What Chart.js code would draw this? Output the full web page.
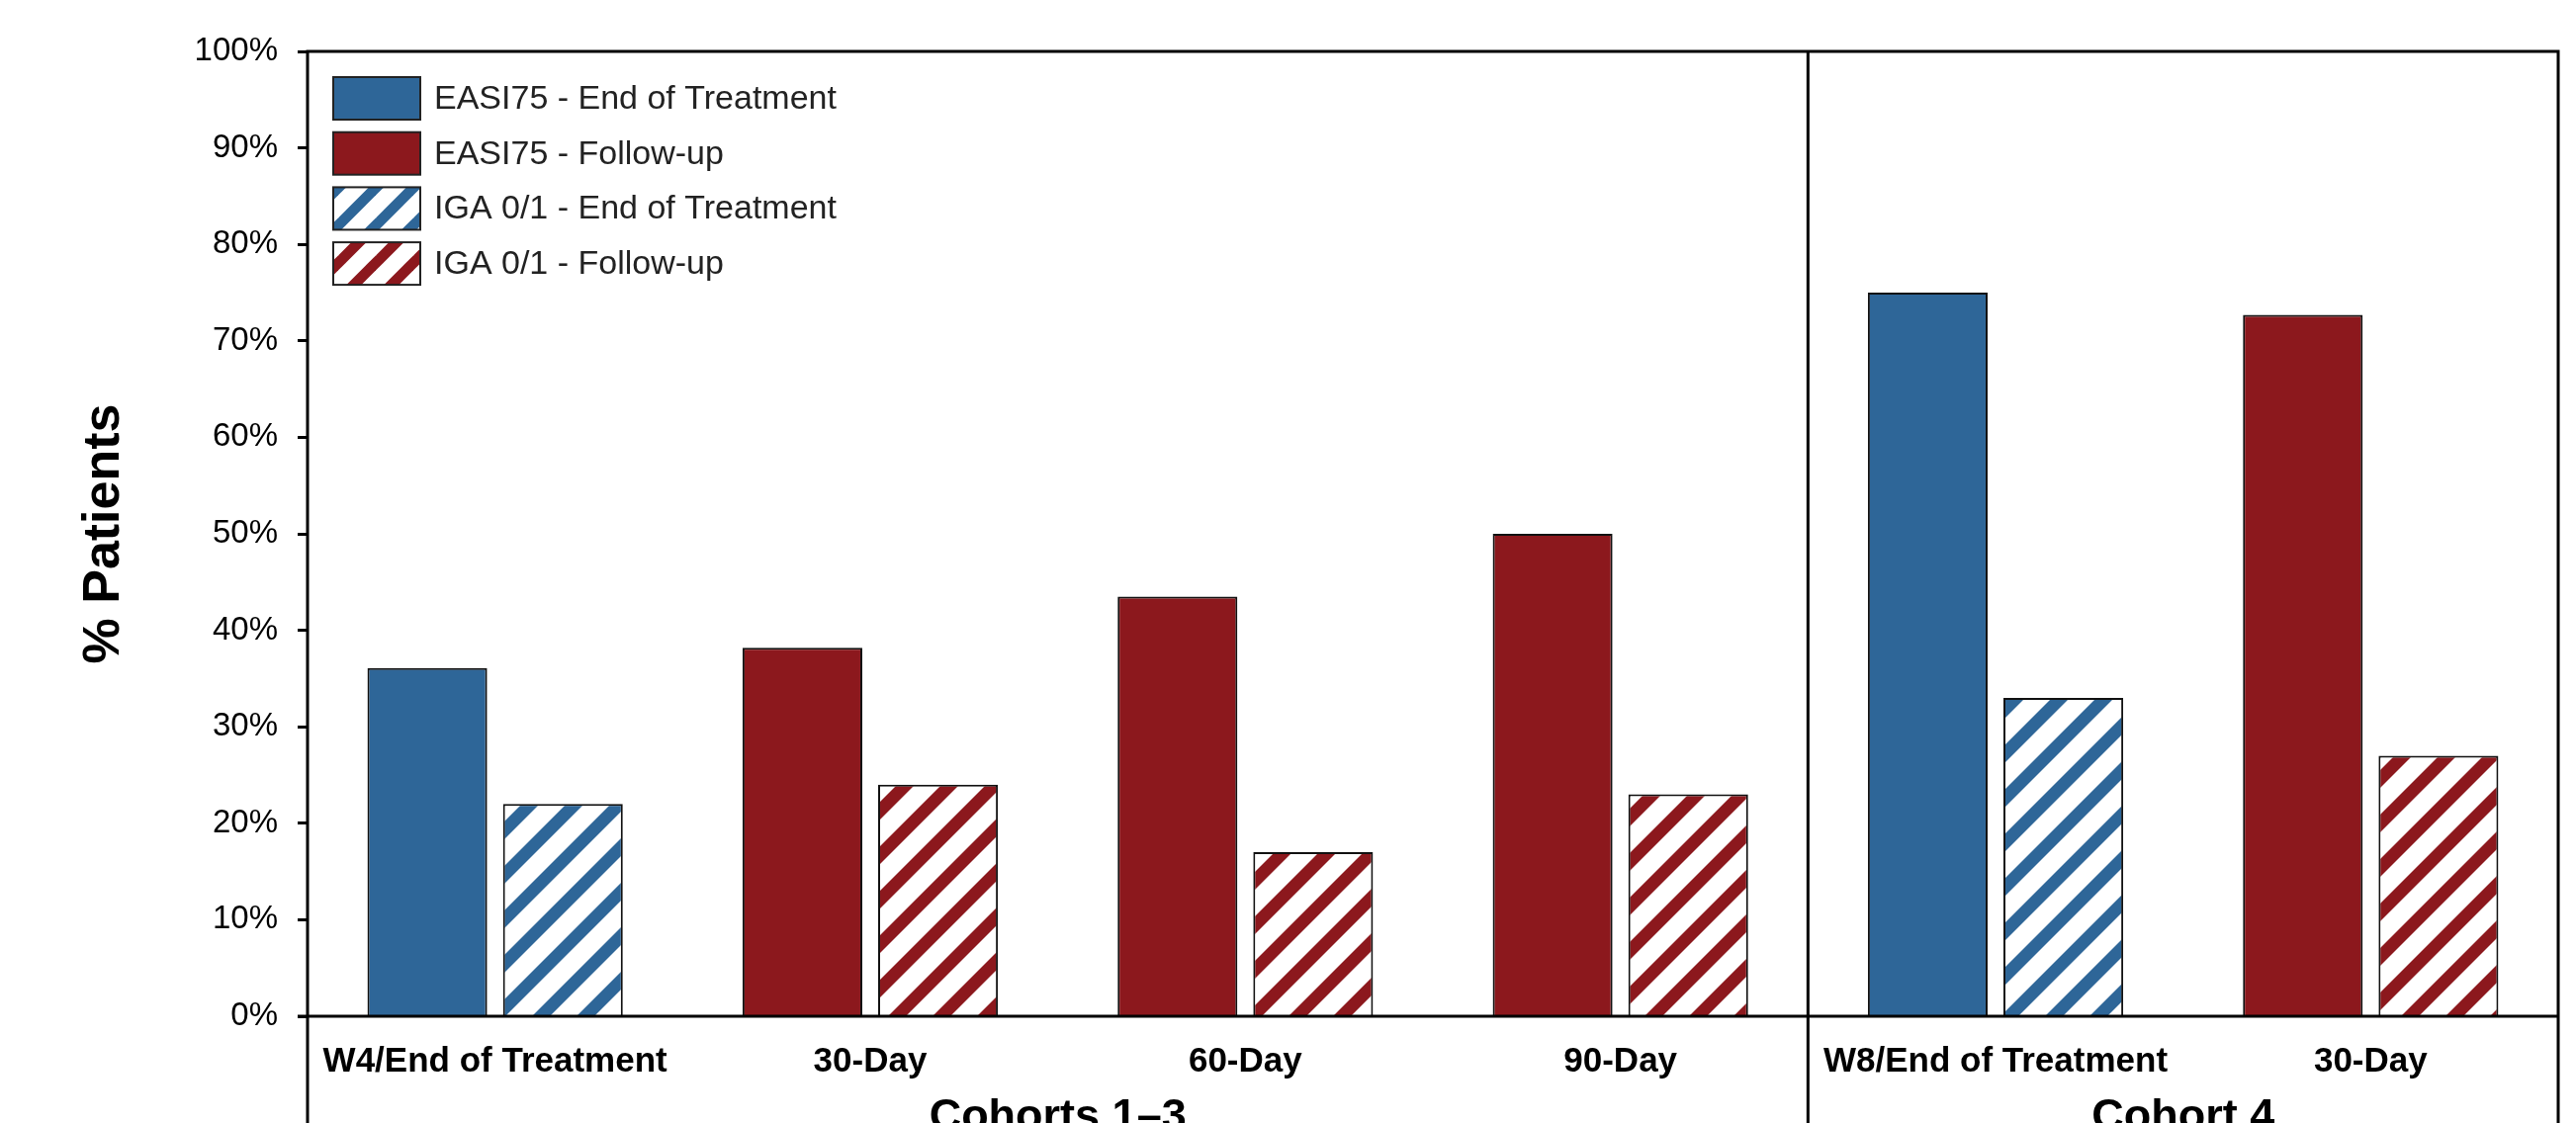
<!DOCTYPE html>
<html>
<head>
<meta charset="utf-8">
<title>EASI75 / IGA 0/1 response</title>
<script src="https://cdn.jsdelivr.net/npm/chart.js@4/dist/chart.umd.min.js"></script>
<style>
  body { margin: 0; background: #fff; }
  #wrap { width: 2605px; height: 1136px; }
</style>
</head>
<body>
<div id="wrap"><canvas id="myChart" width="2605" height="1136"></canvas></div>
<script>
// categories along the x axis
var categories = ['W4/End of Treatment', '30-Day', '60-Day', '90-Day', 'W8/End of Treatment', '30-Day'];
// cohort groups under the categories (label, number of categories)
var groupLabels = ['Cohorts 1\u20133', 'Cohort 4'];
var groupSizes = [4, 2];

// % patients, null where the series has no bar
var easiEndOfTreatment = [36.1, null, null, null, 75.0, null];
var easiFollowUp       = [null, 38.2, 43.5, 50.0, null, 72.7];
var igaEndOfTreatment  = [22.0, null, null, null, 33.0, null];
var igaFollowUp        = [null, 24.0, 17.0, 23.0, null, 27.0];

var yTicks = [0, 10, 20, 30, 40, 50, 60, 70, 80, 90, 100];

var BLUE = '#2E6698';
var RED = '#8C181D';

// diagonal "/" stripes on white
function makeStripes(color, period) {
  var c = document.createElement('canvas');
  c.width = period;
  c.height = period;
  var g = c.getContext('2d');
  g.fillStyle = '#fff';
  g.fillRect(0, 0, period, period);
  g.strokeStyle = color;
  g.lineWidth = period * 0.4 / Math.SQRT2;
  for (var k = -1; k <= 1; k++) {
    g.beginPath();
    g.moveTo(k * period - period, 2 * period);
    g.lineTo(k * period + 2 * period, -period);
    g.stroke();
  }
  return g.createPattern(c, 'repeat');
}

var ctx = document.getElementById('myChart').getContext('2d');

var datasets = [
  { label: 'EASI75 - End of Treatment', data: easiEndOfTreatment, backgroundColor: BLUE, legendFill: BLUE },
  { label: 'EASI75 - Follow-up', data: easiFollowUp, backgroundColor: RED, legendFill: RED },
  { label: 'IGA 0/1 - End of Treatment', data: igaEndOfTreatment, backgroundColor: makeStripes(BLUE, 45), legendFill: makeStripes(BLUE, 38) },
  { label: 'IGA 0/1 - Follow-up', data: igaFollowUp, backgroundColor: makeStripes(RED, 45), legendFill: makeStripes(RED, 38) }
];

// box around the plot, split between cohorts, running down through the label strip
var framePlugin = {
  id: 'frame',
  afterDraw: function(chart) {
    var a = chart.chartArea;
    var x = chart.scales.x;
    var c = chart.ctx;
    var h = chart.height;
    var split = 0, pos = [];
    for (var i = 0; i < groupSizes.length; i++) {
      split += groupSizes[i];
      if (split < categories.length) {
        pos.push((x.getPixelForValue(split - 1) + x.getPixelForValue(split)) / 2);
      }
    }
    c.save();
    c.strokeStyle = '#000';
    c.lineWidth = 3;
    c.beginPath();
    c.moveTo(a.left, h); c.lineTo(a.left, a.top); c.lineTo(a.right, a.top); c.lineTo(a.right, h);
    c.moveTo(a.left - 10, a.bottom); c.lineTo(a.right, a.bottom);
    pos.forEach(function(p) { c.moveTo(p, a.top); c.lineTo(p, h); });
    c.stroke();

    // cohort names centred under their categories
    c.fillStyle = '#000';
    c.font = 'bold 45px "Liberation Sans", Arial, sans-serif';
    c.textAlign = 'center';
    c.textBaseline = 'alphabetic';
    for (var j = 0; j < groupLabels.length; j++) {
      var l = j === 0 ? a.left : pos[j - 1];
      var r = j === groupLabels.length - 1 ? a.right : pos[j];
      c.fillText(groupLabels[j], (l + r) / 2, a.bottom + 115);
    }
    c.restore();
  }
};

// legend drawn inside the plot, top left
var legendPlugin = {
  id: 'insideLegend',
  afterDraw: function(chart) {
    var a = chart.chartArea;
    var c = chart.ctx;
    var bx = a.left + 26, by = a.top + 26, bw = 88, bh = 43, step = 55.7;
    c.save();
    c.font = '34px "Liberation Sans", Arial, sans-serif';
    c.textBaseline = 'middle';
    c.textAlign = 'left';
    chart.data.datasets.forEach(function(ds, i) {
      var y = by + i * step;
      c.fillStyle = ds.legendFill;
      c.fillRect(bx, y, bw, bh);
      c.lineWidth = 2;
      c.strokeStyle = '#222';
      c.strokeRect(bx, y, bw, bh);
      c.fillStyle = '#222';
      c.fillText(ds.label, bx + bw + 14, y + bh / 2 + 1);
    });
    c.restore();
  }
};

Chart.defaults.font.family = '"Liberation Sans", Arial, sans-serif';
Chart.defaults.color = '#000';

var chart = new Chart(ctx, {
  type: 'bar',
  data: {
    labels: categories,
    datasets: datasets
  },
  options: {
    responsive: false,
    animation: false,
    devicePixelRatio: 1,
    skipNull: true,
    categoryPercentage: 0.723,
    barPercentage: 0.883,
    borderColor: '#111',
    borderWidth: 2,
    layout: { padding: { top: 52, right: 18, left: 0, bottom: 0 } },
    plugins: {
      legend: { display: false },
      tooltip: { enabled: false }
    },
    scales: {
      x: {
        grid: { display: false },
        border: { display: false },
        ticks: {
          autoSkip: false,
          maxRotation: 0,
          padding: 17,
          color: '#000',
          font: { size: 35, weight: 'bold' }
        },
        afterFit: function(scale) { scale.height = 108; }
      },
      y: {
        min: 0,
        max: 100,
        border: { display: false },
        grid: {
          drawOnChartArea: false,
          drawTicks: true,
          tickLength: 10,
          tickWidth: 3,
          tickColor: '#000'
        },
        afterBuildTicks: function(scale) {
          scale.ticks = yTicks.map(function(v) { return { value: v }; });
        },
        ticks: {
          padding: 20,
          color: '#000',
          font: { size: 33 },
          callback: function(v) { return v + '%'; }
        },
        title: {
          display: true,
          text: '% Patients',
          color: '#000',
          font: { size: 52, weight: 'bold' },
          padding: { top: 74, bottom: 0 }
        },
        afterFit: function(scale) { scale.width = 311; }
      }
    }
  },
  plugins: [framePlugin, legendPlugin]
});
</script>
</body>
</html>
